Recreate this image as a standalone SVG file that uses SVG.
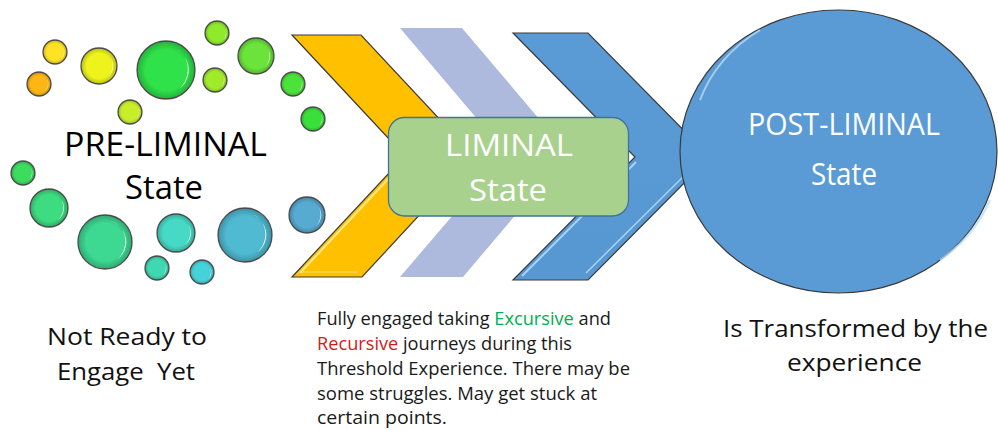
<svg xmlns="http://www.w3.org/2000/svg" xmlns:xlink="http://www.w3.org/1999/xlink" width="998" height="430" viewBox="0 0 998 430">
<style>
  .txt{font-family:"Open Sans","Noto Sans","Liberation Sans",sans-serif;}
  .big{font-size:32px;fill:#000;}
  .wbig{font-size:31px;fill:#fff;}
  .cap{font-size:24px;fill:#111;}
  .para{font-size:18.2px;fill:#1a1a1a;}
  .bub{stroke:#555;stroke-width:1.3;}
  .rim{fill:url(#rim);}
  .hl{fill:#fff;opacity:0.85;}
  .chev{stroke:#3a3a3a;stroke-width:1.2;stroke-linejoin:miter;}
</style>
<defs>
  <radialGradient id="rim" cx="0.5" cy="0.5" r="0.5">
    <stop offset="0.7" stop-color="#000" stop-opacity="0"/>
    <stop offset="1" stop-color="#000" stop-opacity="0.22"/>
  </radialGradient>
  <path id="hl" d="M 6.5 -4.5 A 8 8 0 0 1 4.5 6.5 A 9.2 9.2 0 0 0 6.5 -4.5 Z M 2 -7.8 A 8 8 0 0 1 5.5 -6 A 9 9 0 0 0 2 -7.8 Z"/>
  <linearGradient id="blueShade" x1="0" y1="0" x2="0" y2="1">
    <stop offset="0" stop-color="#5b9bd5"/>
    <stop offset="1" stop-color="#5797d2"/>
  </linearGradient>
</defs>

<g id="pre-liminal">
  <g id="bubbles">
    <g><circle class="bub" cx="55" cy="52" r="12" fill="#ffe224"/><circle class="rim" cx="55" cy="52" r="12"/><use xlink:href="#hl" class="hl" transform="translate(55,52) scale(1.2)"/></g>
    <g><circle class="bub" cx="39" cy="84" r="12" fill="#ffb612"/><circle class="rim" cx="39" cy="84" r="12"/><use xlink:href="#hl" class="hl" transform="translate(39,84) scale(1.2)"/></g>
    <g><circle class="bub" cx="99" cy="66" r="18" fill="#eef31c"/><circle class="rim" cx="99" cy="66" r="18"/><use xlink:href="#hl" class="hl" transform="translate(99,66) scale(1.8)"/></g>
    <g><circle class="bub" cx="166" cy="70" r="29" fill="#2fe24a"/><circle class="rim" cx="166" cy="70" r="29"/><use xlink:href="#hl" class="hl" transform="translate(166,70) scale(2.9)"/></g>
    <g><circle class="bub" cx="217" cy="33" r="12" fill="#8eea2a"/><circle class="rim" cx="217" cy="33" r="12"/><use xlink:href="#hl" class="hl" transform="translate(217,33) scale(1.2)"/></g>
    <g><circle class="bub" cx="256" cy="56" r="18" fill="#6ae43a"/><circle class="rim" cx="256" cy="56" r="18"/><use xlink:href="#hl" class="hl" transform="translate(256,56) scale(1.8)"/></g>
    <g><circle class="bub" cx="215" cy="80" r="12" fill="#a0ea2a"/><circle class="rim" cx="215" cy="80" r="12"/><use xlink:href="#hl" class="hl" transform="translate(215,80) scale(1.2)"/></g>
    <g><circle class="bub" cx="293" cy="84" r="12" fill="#4be33a"/><circle class="rim" cx="293" cy="84" r="12"/><use xlink:href="#hl" class="hl" transform="translate(293,84) scale(1.2)"/></g>
    <g><circle class="bub" cx="313" cy="119" r="12" fill="#3ae03a"/><circle class="rim" cx="313" cy="119" r="12"/><use xlink:href="#hl" class="hl" transform="translate(313,119) scale(1.2)"/></g>
    <g><circle class="bub" cx="130" cy="112" r="12" fill="#c8ee2a"/><circle class="rim" cx="130" cy="112" r="12"/><use xlink:href="#hl" class="hl" transform="translate(130,112) scale(1.2)"/></g>
    <g><circle class="bub" cx="23" cy="173" r="12" fill="#3cdc5e"/><circle class="rim" cx="23" cy="173" r="12"/><use xlink:href="#hl" class="hl" transform="translate(23,173) scale(1.2)"/></g>
    <g><circle class="bub" cx="49" cy="208" r="19" fill="#3ddc80"/><circle class="rim" cx="49" cy="208" r="19"/><use xlink:href="#hl" class="hl" transform="translate(49,208) scale(1.9)"/></g>
    <g><circle class="bub" cx="105" cy="242" r="27" fill="#3dd891"/><circle class="rim" cx="105" cy="242" r="27"/><use xlink:href="#hl" class="hl" transform="translate(105,242) scale(2.7)"/></g>
    <g><circle class="bub" cx="176" cy="233" r="19" fill="#46d9c6"/><circle class="rim" cx="176" cy="233" r="19"/><use xlink:href="#hl" class="hl" transform="translate(176,233) scale(1.9)"/></g>
    <g><circle class="bub" cx="157" cy="268" r="12" fill="#40d8b2"/><circle class="rim" cx="157" cy="268" r="12"/><use xlink:href="#hl" class="hl" transform="translate(157,268) scale(1.2)"/></g>
    <g><circle class="bub" cx="202" cy="272" r="12" fill="#46d2da"/><circle class="rim" cx="202" cy="272" r="12"/><use xlink:href="#hl" class="hl" transform="translate(202,272) scale(1.2)"/></g>
    <g><circle class="bub" cx="245" cy="235" r="27" fill="#4fbad2"/><circle class="rim" cx="245" cy="235" r="27"/><use xlink:href="#hl" class="hl" transform="translate(245,235) scale(2.7)"/></g>
    <g><circle class="bub" cx="307" cy="215" r="18" fill="#57abd3"/><circle class="rim" cx="307" cy="215" r="18"/><use xlink:href="#hl" class="hl" transform="translate(307,215) scale(1.8)"/></g>
  </g>
  <text class="txt big" x="64" y="156" textLength="203" lengthAdjust="spacingAndGlyphs">PRE-LIMINAL</text>
  <text class="txt big" x="125" y="199" textLength="78" lengthAdjust="spacingAndGlyphs">State</text>
</g>

<g id="connectors">
  <g id="chevron-orange">
    <polygon class="chev" points="292,35 361,35 474,156 362,277 292,277 405,156" fill="#ffc000"/>
    <polyline points="300,273 406,160" fill="none" stroke="#ffe98a" stroke-width="2"/>
    <polyline points="302,272 358,272" fill="none" stroke="#ffd54a" stroke-width="1.5"/>
  </g>
  <g id="chevron-lavender">
    <polygon points="400,28 462,28 568,153 463,277 400,277 506,153" fill="#aebadd"/>
  </g>
  <g id="chevron-blue">
    <polygon class="chev" points="513,33 588,33 710,157 588,280 513,280 635,157" fill="url(#blueShade)"/>
    <polyline points="522,276 636,162" fill="none" stroke="#a9d3f5" stroke-width="2"/>
    <polyline points="586,273 690,170" fill="none" stroke="#a9d3f5" stroke-width="1.5"/>
  </g>
</g>

<g id="post-liminal">
  <ellipse cx="838.5" cy="151.5" rx="158.5" ry="141.5" fill="#5b9bd5" stroke="#3a3a3a" stroke-width="1.2"/>
  <path d="M 700 100 A 155 138 0 0 1 760 30" fill="none" stroke="#b8dcf8" stroke-width="2" opacity="0.8"/>
  <path d="M 990 200 A 155 138 0 0 1 940 260" fill="none" stroke="#b8dcf8" stroke-width="2" opacity="0.8"/>
  <text class="txt wbig" x="748" y="135" textLength="192" lengthAdjust="spacingAndGlyphs">POST-LIMINAL</text>
  <text class="txt wbig" x="811" y="185" textLength="66" lengthAdjust="spacingAndGlyphs">State</text>
</g>

<g id="liminal">
  <rect x="388.5" y="117.5" width="240" height="98.5" rx="16" ry="16" fill="#a9d18e" stroke="#41719c" stroke-width="1.3"/>
  <text class="txt wbig" x="445" y="156" textLength="128" lengthAdjust="spacingAndGlyphs">LIMINAL</text>
  <text class="txt wbig" x="469" y="201" textLength="78" lengthAdjust="spacingAndGlyphs">State</text>
</g>

<g id="captions">
  <text class="txt cap" x="47" y="345" textLength="160" lengthAdjust="spacingAndGlyphs">Not Ready to</text>
  <text class="txt cap" x="57" y="380" textLength="138" lengthAdjust="spacingAndGlyphs" xml:space="preserve">Engage  Yet</text>
  <text class="txt cap" x="723" y="337" textLength="265" lengthAdjust="spacingAndGlyphs">Is Transformed by the</text>
  <text class="txt cap" x="787" y="371" textLength="135" lengthAdjust="spacingAndGlyphs">experience</text>
  <g id="liminal-description" class="txt para">
    <text x="317" y="325">Fully engaged taking <tspan fill="#00b050">Excursive</tspan> and</text>
    <text x="317" y="350"><tspan fill="#d01c1c">Recursive</tspan> journeys during this</text>
    <text x="317" y="375" textLength="313" lengthAdjust="spacingAndGlyphs">Threshold Experience. There may be</text>
    <text x="317" y="400" textLength="280" lengthAdjust="spacingAndGlyphs">some struggles. May get stuck at</text>
    <text x="317" y="424" textLength="130" lengthAdjust="spacingAndGlyphs">certain points.</text>
  </g>
</g>
</svg>
